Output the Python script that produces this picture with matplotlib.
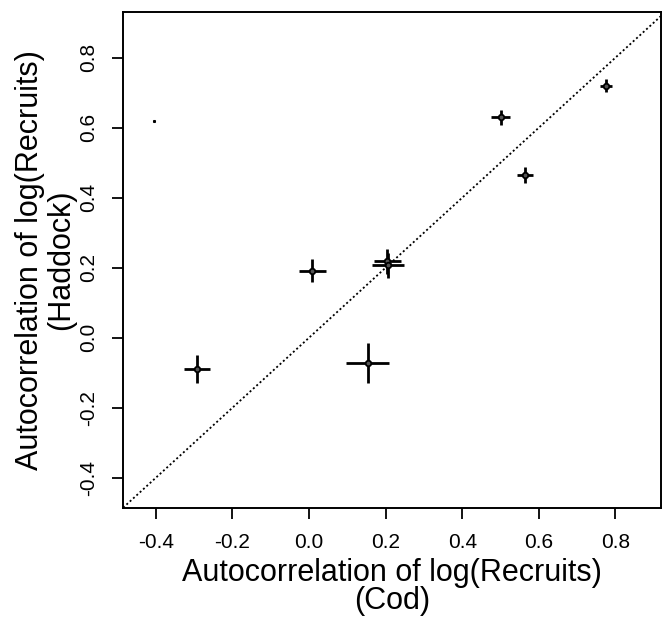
""" Autocorrelation of log(Recruits): cod vs haddock, with error crosses """

import matplotlib
matplotlib.use( 'Agg' )
import matplotlib.pyplot as plt

### Data
cod_acf     = [ 0.775 , 0.500 , 0.565 , 0.009 , 0.204 , 0.206 , -0.292 , 0.153 ]
haddock_acf = [ 0.720 , 0.630 , 0.465 , 0.192 , 0.218 , 0.207 , -0.089 , -0.073 ]
cod_err     = [ 0.016 , 0.026 , 0.021 , 0.035 , 0.035 , 0.042 , 0.035 , 0.056 ]
haddock_err = [ 0.019 , 0.021 , 0.023 , 0.034 , 0.035 , 0.035 , 0.039 , 0.057 ]

### stray speck in the upper left of the original
stray_x = [ -0.405 ]
stray_y = [ 0.62 ]

x_ticks = [ -0.4 , -0.2 , 0.0 , 0.2 , 0.4 , 0.6 , 0.8 ]
y_ticks = [ -0.4 , -0.2 , 0.0 , 0.2 , 0.4 , 0.6 , 0.8 ]

plt.rcParams[ 'font.family' ] = [ 'Liberation Sans' , 'DejaVu Sans' ]

fig = plt.figure( figsize = ( 6.62 , 6.18 ) , dpi = 100 )
ax = fig.add_axes( [ 0.186 , 0.178 , 0.812 , 0.803 ] )

### y = x reference line
ax.axline( ( 0 , 0 ) , slope = 1 , color = 'black' , linestyle = ( 0 , ( 1.1 , 1.4 ) ) , linewidth = 1.3 )

### Error crosses
ax.errorbar( cod_acf , haddock_acf , xerr = cod_err , yerr = haddock_err , fmt = 'none' ,
             ecolor = 'black' , elinewidth = 2.0 , capsize = 0 )
ax.plot( cod_acf , haddock_acf , 'o' , markersize = 4 , markerfacecolor = '#555555' ,
         markeredgecolor = 'black' , markeredgewidth = 1.3 )

ax.plot( stray_x , stray_y , 's' , color = 'black' , markersize = 1.2 )

ax.set_xlim( -0.485 , 0.918 )
ax.set_ylim( -0.486 , 0.931 )

ax.set_xticks( x_ticks )
ax.set_yticks( y_ticks )
ax.set_xticklabels( [ '%.1f' % t for t in x_ticks ] )
ax.set_yticklabels( [ '%.1f' % t for t in y_ticks ] , rotation = 90 , va = 'center' )

ax.tick_params( direction = 'out' , length = 8 , width = 1.3 , labelsize = 15 , pad = 10 )

for side in ax.spines.values():
    side.set_linewidth( 1.4 )

ax.set_xlabel( 'Autocorrelation of log(Recruits)\n(Cod)' , fontsize = 22 , labelpad = 4 , linespacing = 0.95 )
ax.set_ylabel( 'Autocorrelation of log(Recruits)\n(Haddock)' , fontsize = 22 , labelpad = 2 , linespacing = 1.05 )

fig.savefig( 'out.png' , dpi = 100 )
